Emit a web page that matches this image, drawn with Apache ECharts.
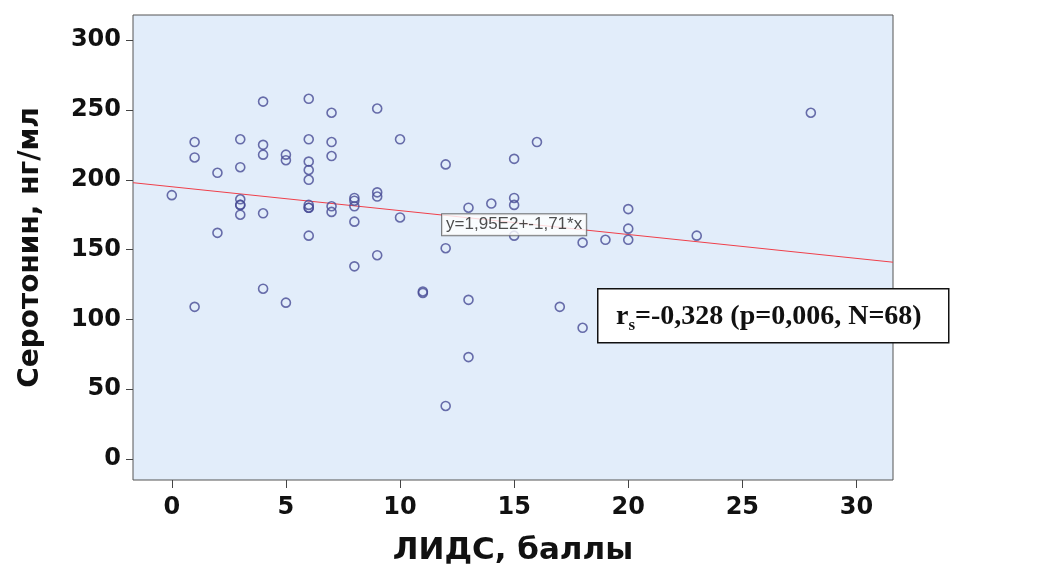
<!DOCTYPE html>
<html><head><meta charset="utf-8">
<script src="https://cdn.jsdelivr.net/npm/echarts@6/dist/echarts.min.js"></script>
<style>html,body{margin:0;padding:0;background:#fff}#c{width:1038px;height:567px}</style>
</head><body><div id="c"></div>
<script>
// LIDS score (x) and serotonin (y), one entry per patient
const lidsScores = [0, 1,1,1, 2,2, 3,3,3,3,3,3, 4,4,4,4,4, 5,5,5, 6,6,6,6,6,6,6,6,6, 7,7,7,7,7, 8,8,8,8,8, 9,9,9,9, 10,10, 11,11, 12,12,12, 13,13,13, 14, 15,15,15,15, 16, 17, 18,18, 19, 20,20,20, 23, 28];
const serotonin  = [189, 227,216,109, 205,162, 229,209,186,182,182,175, 256,225,218,176,122, 218,214,112, 258,229,213,207,200,182,180,180,160, 248,227,217,181,177, 187,185,181,170,138, 251,191,188,146, 229,173, 120,119, 211,151,38, 180,114,73, 183, 215,187,182,160, 227, 109, 155,94, 157, 179,165,157, 160, 248];
const xTicks = [0, 5, 10, 15, 20, 25, 30];
const yTicks = [0, 50, 100, 150, 200, 250, 300];
const xRange = [-1.7, 31.6];
const yRange = [-15, 318];
const fitIntercept = 195, fitSlope = -1.71;
const fitLabel = 'y=1,95E2+-1,71*x';
const fitLabelAt = 15;
const xName = 'ЛИДС, баллы';
const yName = 'Серотонин, нг/мл';
const statMain = '=-0,328 (p=0,006, N=68)';

const points = lidsScores.map((x, i) => [x, serotonin[i]]);
const fit = x => fitIntercept + fitSlope * x;

const chart = echarts.init(document.getElementById('c'), null, {renderer: 'canvas'});
const tickFont = {fontFamily: 'DejaVu Sans', fontWeight: 'bold', fontSize: 24, color: '#111'};
const nameFont = {fontFamily: 'DejaVu Sans', fontWeight: 'bold', fontSize: 31, color: '#111'};
chart.setOption({
  animation: false,
  grid: {left: 133, right: 145, top: 15, bottom: 87, show: true, containLabel: false, outerBoundsMode: 'none',
         backgroundColor: '#E2EDFA', borderColor: '#555', borderWidth: 1},
  xAxis: {
    type: 'value', min: xRange[0], max: xRange[1],
    splitLine: {show: false}, axisLine: {show: false, onZero: false},
    axisTick: {show: true, customValues: xTicks, length: 8, lineStyle: {color: '#444'}},
    axisLabel: Object.assign({customValues: xTicks, margin: 16}, tickFont),
    name: xName, nameLocation: 'middle', nameGap: 55, nameTextStyle: nameFont
  },
  yAxis: {
    type: 'value', min: yRange[0], max: yRange[1],
    splitLine: {show: false}, axisLine: {show: false, onZero: false},
    axisTick: {show: true, customValues: yTicks, length: 7, lineStyle: {color: '#444'}},
    axisLabel: Object.assign({customValues: yTicks, margin: 12}, tickFont),
    name: yName, nameLocation: 'middle', nameGap: 88, nameRotate: 90,
    nameTextStyle: Object.assign({}, nameFont, {fontSize: 28})
  },
  series: [
    {
      type: 'line', data: xRange.map(x => [x, fit(x)]), symbol: 'none',
      lineStyle: {color: '#F0404A', width: 1}, silent: true, z: 2
    },
    {
      type: 'scatter', data: points, symbol: 'circle', symbolSize: 9,
      itemStyle: {color: 'rgba(0,0,0,0)', borderColor: '#474B95', borderWidth: 1.6}, z: 3
    },
    {
      type: 'scatter', data: [[fitLabelAt, fit(fitLabelAt) - 1.5]], symbolSize: 0, z: 4,
      label: {show: true, position: 'inside', formatter: fitLabel,
        fontFamily: 'Liberation Sans', fontSize: 17, color: '#222',
        backgroundColor: '#fff', borderColor: '#555', borderWidth: 1, padding: [2, 4, 2, 4]}
    }
  ],
  graphic: [
    {type: 'rect', left: 597, top: 288, shape: {width: 351, height: 54}, z: 100,
     style: {fill: '#fff', stroke: '#111', lineWidth: 1.5}},
    {type: 'text', left: 616, top: 303, z: 101,
     style: {text: '{r|r}{s|s}{m|' + statMain + '}',
       rich: {
         r: {fontFamily: 'Liberation Serif', fontWeight: 'bold', fontSize: 28, fill: '#111', verticalAlign: 'bottom'},
         s: {fontFamily: 'Liberation Serif', fontWeight: 'bold', fontSize: 17, fill: '#111', verticalAlign: 'bottom', padding: [0,0,-3,0]},
         m: {fontFamily: 'Liberation Serif', fontWeight: 'bold', fontSize: 28, fill: '#111', verticalAlign: 'bottom'}
       }}}
  ]
});
</script></body></html>
